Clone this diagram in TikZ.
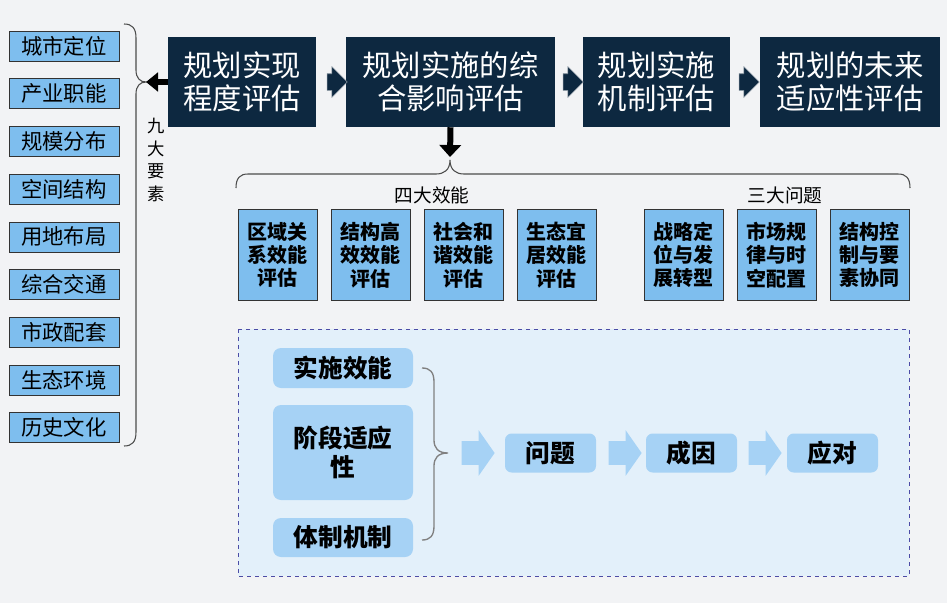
\documentclass[tikz,border=0pt]{standalone}
\usepackage{fontspec}
\setmainfont{Noto Sans CJK SC}
\usetikzlibrary{shapes.arrows,decorations.pathreplacing,arrows.meta}
\definecolor{bg}{HTML}{F2F3F5}
\definecolor{navy}{HTML}{0D2840}
\definecolor{lblue}{HTML}{7EBEEE}
\definecolor{pblue}{HTML}{A6D2F5}
\definecolor{panel}{HTML}{E3F0FA}
\tikzset{
  elem/.style={draw=black!80,fill=lblue,minimum width=110*0.75pt,minimum height=30*0.75pt,inner sep=0pt,font=\fontsize{16}{16}\selectfont},
  head/.style={fill=navy,text=white,minimum height=90*0.75pt,inner sep=0pt,align=center,font=\fontsize{22}{25}\selectfont},
  eff/.style={draw=black!80,fill=lblue,minimum width=79*0.75pt,minimum height=91*0.75pt,inner sep=0pt,align=center,font=\bfseries\fontsize{15}{17.5}\selectfont},
  rbox/.style={fill=pblue,rounded corners=6pt,minimum width=140*0.75pt,inner sep=0pt,align=center,font=\bfseries\fontsize{18.5}{22}\selectfont},
  qbox/.style={fill=pblue,rounded corners=5pt,minimum width=91*0.75pt,minimum height=39*0.75pt,inner sep=0pt,font=\bfseries\fontsize{18.5}{18.5}\selectfont},
  darr/.style={single arrow,fill=navy,draw=navy!50!white,minimum width=30*0.75pt,single arrow head extend=7*0.75pt,minimum height=20*0.75pt,inner xsep=0pt,inner ysep=8*0.75pt,single arrow tip angle=90},
  larr/.style={single arrow,fill=pblue,minimum width=45*0.75pt,single arrow head extend=11*0.75pt,minimum height=33*0.75pt,inner xsep=0pt,inner ysep=11.5*0.75pt,single arrow tip angle=110},
}
\begin{document}
\begin{tikzpicture}[x=0.75pt,y=-0.75pt]
\fill[bg] (0,0) rectangle (947,603);
\useasboundingbox (0,0) rectangle (947,603);
% left elements
\foreach \t [count=\i] in {城市定位,产业职能,规模分布,空间结构,用地布局,综合交通,市政配套,生态环境,历史文化}
  \node[elem] (e\i) at (64,{46+47.7*(\i-1)}) {\t};
\draw[black!70,line width=0.8pt] (124,24) .. controls (132,24) and (136,28) .. (136,38) -- (136,70)
  .. controls (136,78) and (140,82) .. (146,82) .. controls (140,82) and (136,86) .. (136,94)
  -- (136,432) .. controls (136,442) and (132,446) .. (124,446);
\coordinate (bt) at (146,82);
\node[font=\fontsize{13}{17}\selectfont,align=center] (nine) at (156,160) {九\\大\\要\\素};
% head boxes
\node[head,minimum width=148*0.75pt] (h1) at (242,82) {规划实现\\程度评估};
\node[head,minimum width=209*0.75pt] (h2) at (450.5,82) {规划实施的综\\合影响评估};
\node[head,minimum width=147*0.75pt] (h3) at (656.5,82) {规划实施\\机制评估};
\node[head,minimum width=180*0.75pt] (h4) at (850,82) {规划的未来\\适应性评估};
\draw[-{Triangle[width=14pt,length=9pt]},line width=4.5pt] (h1.west) -- (bt);
\node[darr] (a1) at (333,82) {};
\node[darr] (a2) at (569,82) {};
\node[darr] (a3) at (745,82) {};
\coordinate (dt) at (450,157);
\draw[-{Triangle[width=16pt,length=9pt]},line width=4.5pt] (h2.south) -- (dt);
\draw[black!70,line width=0.8pt] (236,188) .. controls (236,178) and (240,174) .. (248,174) -- (436,174)
  .. controls (444,174) and (450,170) .. (450,160) .. controls (450,170) and (456,174) .. (464,174)
  -- (898,174) .. controls (906,174) and (910,178) .. (910,188);
\node[font=\fontsize{14}{14}\selectfont] (l4) at (432,195) {四大效能};
\node[font=\fontsize{14}{14}\selectfont] (l3) at (785,195) {三大问题};
% effect boxes
\node[eff] (f1) at (277.5,255) {区域关\\系效能\\评估};
\node[eff] (f2) at (370.5,255) {结构高\\效效能\\评估};
\node[eff] (f3) at (463.5,255) {社会和\\谐效能\\评估};
\node[eff] (f4) at (556.5,255) {生态宜\\居效能\\评估};
\node[eff] (g1) at (683.5,255) {战略定\\位与发\\展转型};
\node[eff] (g2) at (776.5,255) {市场规\\律与时\\空配置};
\node[eff] (g3) at (869.5,255) {结构控\\制与要\\素协同};
% panel
\draw[draw=blue!50!black!70,dashed,fill=panel] (238,329) rectangle (909,576);
\node[rbox,minimum height=40*0.75pt] (r1) at (343,368) {实施效能};
\node[rbox,minimum height=95*0.75pt] (r2) at (343,452.5) {阶段适应\\性};
\node[rbox,minimum height=39*0.75pt] (r3) at (343,537.5) {体制机制};
\draw[gray,line width=1pt] (422,368) .. controls (430,368) and (434,372) .. (434,382) -- (434,440)
  .. controls (434,448) and (438,453) .. (448,453) .. controls (438,453) and (434,458) .. (434,466)
  -- (434,526) .. controls (434,536) and (430,540) .. (422,540);
\node[larr] (c1) at (474,453) {};
\node[qbox] (q1) at (550.5,453) {问题};
\node[larr] (c2) at (621,453) {};
\node[qbox] (q2) at (691.5,453) {成因};
\node[larr] (c3) at (761,453) {};
\node[qbox] (q3) at (832.5,453) {应对};
\end{tikzpicture}
\end{document}
